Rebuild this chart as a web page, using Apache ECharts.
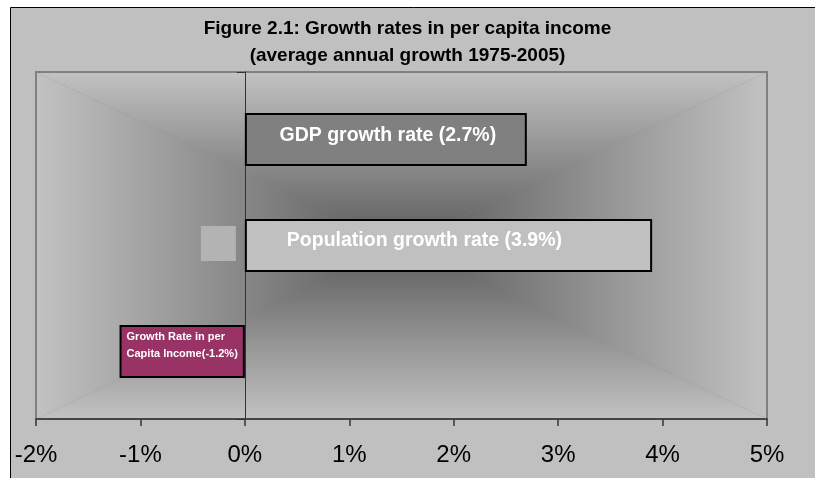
<!DOCTYPE html>
<html>
<head>
<meta charset="utf-8">
<script src="https://cdn.jsdelivr.net/npm/echarts@6/dist/echarts.min.js"></script>
<style>
  html, body { margin: 0; padding: 0; background: #ffffff; }
  #chart { width: 815px; height: 478px; }
</style>
</head>
<body>
<div id="chart"></div>
<script>
// Average annual growth 1975-2005, in percent
const seriesNames = ['GDP growth rate', 'Population growth rate', 'Growth Rate in per Capita Income'];
const growthValues = [2.7, 3.9, -1.2];
const seriesColors = ['#808080', '#c0c0c0', '#993366'];
const axisMin = -2;
const axisMax = 5;
const axisStep = 1;

const FONT = '"Liberation Sans", Arial, Helvetica, sans-serif';

// plot box (pixels) used for the gradient backdrop
const box = { l: 36, t: 72, r: 767, b: 419 };
const cx = (box.l + box.r) / 2;
const cy = (box.t + box.b) / 2;
const edgeGray = '#c2c2c2';
const centerGray = '#5a5a5a';

function grad(x2, y2, reverse) {
  const stops = reverse
    ? [{ offset: 0, color: centerGray }, { offset: 1, color: edgeGray }]
    : [{ offset: 0, color: edgeGray }, { offset: 1, color: centerGray }];
  return { type: 'linear', x: 0, y: 0, x2: x2, y2: y2, colorStops: stops, global: false };
}

const chart = echarts.init(document.getElementById('chart'), null, { renderer: 'canvas' });

const labelStyles = [
  {
    show: true,
    position: 'inside',
    offset: [2, -4],
    formatter: p => `${seriesNames[0]} (${p.value}%)`,
    color: '#ffffff',
    fontFamily: FONT,
    fontWeight: 'bold',
    fontSize: 19.5
  },
  {
    show: true,
    position: [-44, '50%'],
    align: 'left',
    verticalAlign: 'middle',
    offset: [0, -2],
    formatter: p => `{sq|}{gp|}{t|${seriesNames[1]} (${p.value}%)}`,
    rich: {
      sq: { width: 35, height: 35, backgroundColor: '#b3b3b3' },
      gp: { width: 51 },
      t: {
        color: '#ffffff', fontFamily: FONT, fontWeight: 'bold', fontSize: 19.5,
        padding: [0, 0, 5, 0]
      }
    }
  },
  {
    show: true,
    position: [7, 3],
    align: 'left',
    verticalAlign: 'top',
    formatter: p => `Growth Rate in per\nCapita Income(${p.value}%)`,
    color: '#ffffff',
    fontFamily: FONT,
    fontWeight: 'bold',
    fontSize: 11,
    lineHeight: 17.5
  }
];

const series = seriesNames.map((name, i) => ({
  name: name,
  type: 'bar',
  data: [growthValues[i]],
  barWidth: 53,
  barGap: '100%',
  itemStyle: { color: seriesColors[i], borderColor: '#000000', borderWidth: 2 },
  label: labelStyles[i],
  emphasis: { disabled: true },
  z: 3
}));

const option = {
  backgroundColor: '#ffffff',
  animation: false,
  title: {
    text: 'Figure 2.1: Growth rates in per capita income\n(average annual growth 1975-2005)',
    left: 'center',
    top: 15,
    padding: [0, 0, 0, 5],
    textStyle: {
      color: '#000000', fontFamily: FONT, fontWeight: 'bold', fontSize: 19, lineHeight: 27
    }
  },
  graphic: [
    {
      type: 'rect', z: -20, silent: true,
      shape: { x: 10.5, y: 7.5, width: 900, height: 600 },
      style: { fill: '#c0c0c0', stroke: '#000000', lineWidth: 1 }
    },
    {
      type: 'rect', z: -19, silent: true,
      shape: { x: box.l, y: box.t, width: box.r - box.l, height: box.b - box.t },
      style: { fill: '#8a8a8a' }
    },
    {
      type: 'polygon', z: -18, silent: true,
      shape: { points: [[box.l, box.t], [box.r, box.t], [cx, cy]] },
      style: { fill: grad(0, 1, false) }
    },
    {
      type: 'polygon', z: -18, silent: true,
      shape: { points: [[box.l, box.b], [box.r, box.b], [cx, cy]] },
      style: { fill: grad(0, 1, true) }
    },
    {
      type: 'polygon', z: -18, silent: true,
      shape: { points: [[box.l, box.t], [box.l, box.b], [cx, cy]] },
      style: { fill: grad(1, 0, false) }
    },
    {
      type: 'polygon', z: -18, silent: true,
      shape: { points: [[box.r, box.t], [box.r, box.b], [cx, cy]] },
      style: { fill: grad(1, 0, true) }
    }
  ],
  grid: {
    left: box.l, right: 815 - box.r, top: box.t, bottom: 478 - box.b,
    show: true, borderColor: '#808080', borderWidth: 2, backgroundColor: 'transparent',
    containLabel: false
  },
  xAxis: {
    type: 'value',
    min: axisMin,
    max: axisMax,
    interval: axisStep,
    position: 'bottom',
    axisLine: { show: true, onZero: false, lineStyle: { color: '#333333', width: 1.5 } },
    axisTick: { show: true, length: 7, lineStyle: { color: '#333333', width: 1.5 } },
    splitLine: { show: false },
    axisLabel: {
      color: '#000000', fontFamily: FONT, fontSize: 24, margin: 24,
      formatter: '{value}%'
    }
  },
  yAxis: {
    type: 'category',
    data: [''],
    inverse: true,
    axisLine: { show: true, onZero: true, lineStyle: { color: '#333333', width: 1 } },
    axisTick: { show: true, length: 8, lineStyle: { color: '#333333', width: 1 } },
    axisLabel: { show: false },
    splitLine: { show: false }
  },
  series: series
};

chart.setOption(option);
</script>
</body>
</html>
